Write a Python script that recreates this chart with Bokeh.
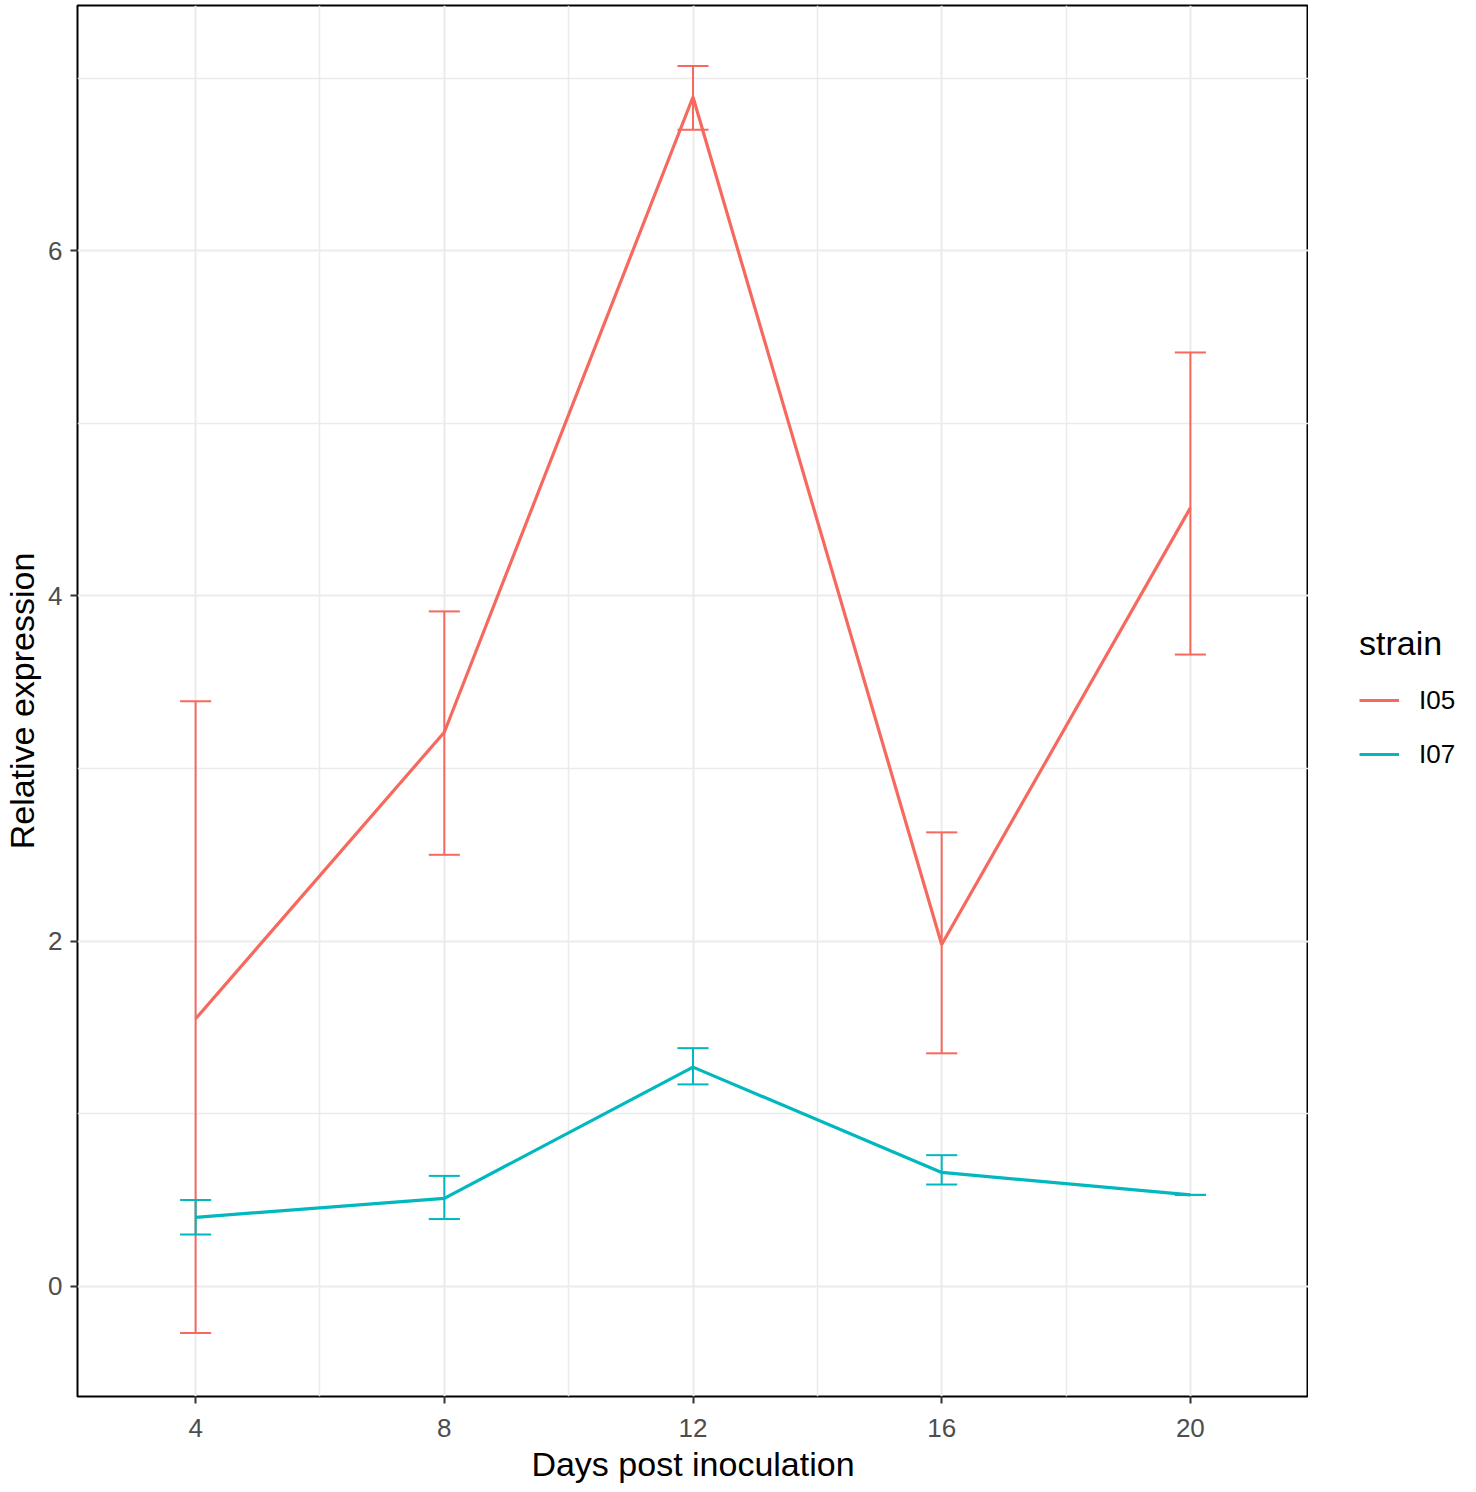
from bokeh.plotting import figure
from bokeh.models import FixedTicker, Range1d, Legend, LegendItem, ColumnDataSource
from bokeh.layouts import row
from bokeh.embed import file_html
from bokeh.resources import INLINE

days = [4, 8, 12, 16, 20]
i05_mean = [1.55, 3.21, 6.89, 1.98, 4.51]
i05_upper = [3.39, 3.91, 7.07, 2.63, 5.41]
i05_lower = [-0.27, 2.50, 6.70, 1.35, 3.66]
i07_mean = [0.40, 0.51, 1.27, 0.66, 0.53]
i07_upper = [0.50, 0.64, 1.38, 0.76, 0.53]
i07_lower = [0.30, 0.39, 1.17, 0.59, 0.53]
strains = ["I05", "I07"]
colors = ["#F6695E", "#00B8BE"]
x_ticks = [4, 8, 12, 16, 20]
y_ticks = [0, 2, 4, 6]
cap_half = 0.25

FONT = "Liberation Sans"
H = 1490
LEFT = 77

p = figure(frame_width=1231, frame_height=1391, output_backend="svg",
           toolbar_location=None, x_range=Range1d(2.1, 21.9),
           y_range=Range1d(-0.638, 7.42),
           min_border_left=LEFT, min_border_top=5, min_border_bottom=H - 1396,
           min_border_right=0, background_fill_color="white",
           border_fill_color="white")

p.outline_line_color = "black"
p.outline_line_width = 2

p.xaxis.ticker = FixedTicker(ticks=x_ticks, minor_ticks=[6, 10, 14, 18])
p.yaxis.ticker = FixedTicker(ticks=y_ticks, minor_ticks=[1, 3, 5, 7])
for ax in (p.xaxis, p.yaxis):
    ax.axis_line_color = None
    ax.major_tick_line_color = "#333333"
    ax.major_tick_line_width = 2
    ax.major_tick_out = 7
    ax.major_tick_in = 0
    ax.minor_tick_line_color = None
    ax.major_label_text_font = FONT
    ax.major_label_text_font_size = "26px"
    ax.major_label_text_color = "#4D4D4D"
    ax.axis_label_text_font = FONT
    ax.axis_label_text_font_size = "34px"
    ax.axis_label_text_font_style = "normal"
    ax.axis_label_text_color = "black"
p.xaxis.axis_label = "Days post inoculation"
p.yaxis.axis_label = "Relative expression"
p.xaxis.major_label_standoff = 15
p.yaxis.major_label_standoff = 8
p.xaxis.axis_label_standoff = 5
p.yaxis.axis_label_standoff = 4

for g in (p.xgrid, p.ygrid):
    g.grid_line_color = "#EBEBEB"
    g.grid_line_width = 2
    g.minor_grid_line_color = "#EBEBEB"
    g.minor_grid_line_width = 1.5

series = [(i05_mean, i05_upper, i05_lower), (i07_mean, i07_upper, i07_lower)]
for name, col, (m, up, lo) in zip(strains, colors, series):
    src = ColumnDataSource(dict(
        x=days, y=m, up=up, lo=lo,
        xl=[d - cap_half for d in days], xr=[d + cap_half for d in days]))
    p.segment(x0="x", y0="lo", x1="x", y1="up", source=src, line_color=col, line_width=2)
    p.segment(x0="xl", y0="up", x1="xr", y1="up", source=src, line_color=col, line_width=2)
    p.segment(x0="xl", y0="lo", x1="xr", y1="lo", source=src, line_color=col, line_width=2)
    p.line("x", "y", source=src, line_color=col, line_width=3.2)

# legend panel (its lines lie outside its visible range; only the legend shows)
pl = figure(width=1460 - LEFT - 1231, height=H, output_backend="svg",
            toolbar_location=None, min_border=0,
            x_range=Range1d(-2, -1), y_range=Range1d(-2, -1))
pl.axis.visible = False
pl.grid.visible = False
pl.outline_line_color = None
items = []
for name, col, (m, up, lo) in zip(strains, colors, series):
    r = pl.line(x=days, y=m, line_color=col, line_width=3.2)
    items.append(LegendItem(label=name, renderers=[r]))

legend = Legend(items=items, title="strain", location=(51, 622))
legend.title_text_font = FONT
legend.title_text_font_size = "34px"
legend.title_text_font_style = "normal"
legend.title_text_color = "black"
legend.title_standoff = 17
legend.label_text_font = FONT
legend.label_text_font_size = "26px"
legend.label_text_color = "black"
legend.glyph_width = 40
legend.glyph_height = 40
legend.label_standoff = 20
legend.spacing = 14
legend.margin = 0
legend.padding = 4
legend.border_line_color = None
legend.background_fill_alpha = 0
pl.add_layout(legend)

layout = row(p, pl)
open("out.html", "w").write(file_html(layout, INLINE))
